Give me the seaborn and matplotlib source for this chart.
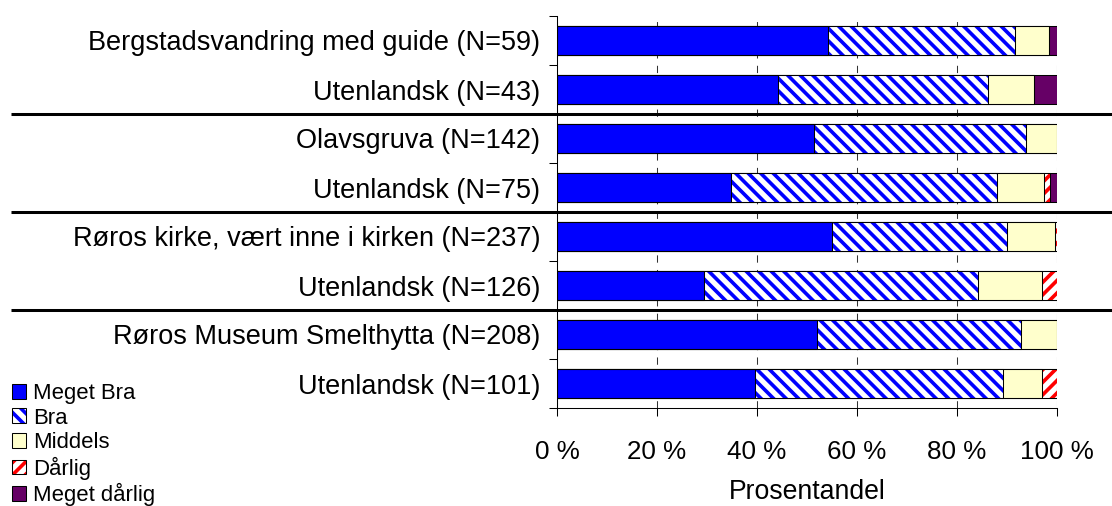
import numpy as np
import pandas as pd
import matplotlib
matplotlib.use("Agg")
import matplotlib.pyplot as plt
import seaborn as sns
from matplotlib.patches import Patch
from matplotlib.transforms import blended_transform_factory

# ---- data (percent of respondents) ----
categories = [
    "Bergstadsvandring med guide (N=59)",
    "Utenlandsk (N=43)",
    "Olavsgruva (N=142)",
    "Utenlandsk (N=75)",
    "Røros kirke, vært inne i kirken (N=237)",
    "Utenlandsk (N=126)",
    "Røros Museum Smelthytta (N=208)",
    "Utenlandsk (N=101)",
]
meget_bra = [54.2, 44.2, 51.4, 34.7, 54.9, 29.4, 51.9, 39.6]
bra = [37.3, 41.9, 42.3, 53.3, 35.0, 54.8, 40.9, 49.5]
middels = [6.8, 9.3, 6.3, 9.3, 9.7, 12.7, 7.2, 7.9]
darlig = [0.0, 0.0, 0.0, 1.3, 0.4, 3.2, 0.0, 3.0]
meget_darlig = [1.7, 4.7, 0.0, 1.3, 0.0, 0.0, 0.0, 0.0]
series_names = ["Meget Bra", "Bra", "Middels", "Dårlig", "Meget dårlig"]
x_ticks = [0, 20, 40, 60, 80, 100]
x_tick_labels = ["0 %", "20 %", "40 %", "60 %", "80 %", "100 %"]
x_label = "Prosentandel"

# ---- styles ----
BLUE = "#0000FF"
YELLOW = "#FFFFCC"
RED = "#FF0000"
PURPLE = "#660066"
styles = [
    dict(face=BLUE, hatch=None, hcol=None),
    dict(face="white", hatch="\\\\", hcol=BLUE),
    dict(face=YELLOW, hatch=None, hcol=None),
    dict(face="white", hatch="//", hcol=RED),
    dict(face=PURPLE, hatch=None, hcol=None),
]

sns.set_theme(style="white")
plt.rcParams["font.family"] = ["Liberation Sans", "DejaVu Sans"]
plt.rcParams["hatch.linewidth"] = 3.5
plt.rcParams["text.color"] = "black"
plt.rcParams["axes.labelcolor"] = "black"
plt.rcParams["xtick.color"] = "black"
plt.rcParams["ytick.color"] = "black"

DPI = 75
W, H = 1112, 506
fig = plt.figure(figsize=(W / DPI, H / DPI), dpi=DPI)
ax_left, ax_right, ax_top, ax_bottom = 557, 1057, 16, 408
ax = fig.add_axes([ax_left / W, 1 - ax_bottom / H, (ax_right - ax_left) / W, (ax_bottom - ax_top) / H])

values = np.array([meget_bra, bra, middels, darlig, meget_darlig])
cum = np.cumsum(values, axis=0)
BAR_W = 0.575
EDGE_LW = 1.0

# fills, outermost cumulative layer first
for i in reversed(range(len(series_names))):
    d = pd.DataFrame({"Kategori": categories, "Andel": cum[i]})
    st = styles[i]
    if st["hatch"]:
        sns.barplot(data=d, x="Andel", y="Kategori", order=categories, orient="h",
                    color="white", saturation=1, width=BAR_W, errorbar=None,
                    edgecolor=st["hcol"], linewidth=0, hatch=st["hatch"], ax=ax, zorder=2)
    else:
        sns.barplot(data=d, x="Andel", y="Kategori", order=categories, orient="h",
                    color=st["face"], saturation=1, width=BAR_W, errorbar=None,
                    edgecolor="black", linewidth=EDGE_LW, ax=ax, zorder=2)
# outlines for the hatched layers
for i in range(len(series_names)):
    if styles[i]["hatch"]:
        d = pd.DataFrame({"Kategori": categories, "Andel": cum[i]})
        sns.barplot(data=d, x="Andel", y="Kategori", order=categories, orient="h",
                    color="black", fill=False, width=BAR_W, errorbar=None,
                    linewidth=EDGE_LW, ax=ax, zorder=3)

ax.set_xlim(0, 100)
ax.set_ylim(len(categories) - 0.5, -0.5)
ax.set_xticks(x_ticks)
ax.set_xticklabels(x_tick_labels, fontsize=25)
ax.set_yticks(range(len(categories)))
ax.set_yticklabels(categories, fontsize=26)
ax.set_yticks(np.arange(len(categories) + 1) - 0.5, minor=True)
ax.tick_params(axis="y", which="major", length=0, pad=16, colors="black")
ax.tick_params(axis="y", which="minor", length=8, width=1, direction="out", color="black", left=True)
ax.tick_params(axis="x", which="major", length=8, width=1, direction="out", color="black",
               bottom=True, pad=23, labelcolor="black")
ax.set_ylabel("")
ax.set_xlabel(x_label, fontsize=25.5, labelpad=14, color="black")

for s in ["top", "right"]:
    ax.spines[s].set_visible(False)
for s in ["left", "bottom"]:
    ax.spines[s].set_color("black")
    ax.spines[s].set_linewidth(1)
    ax.spines[s].set_zorder(4)

ax.set_axisbelow(True)
ax.grid(axis="x", linestyle=(0, (7, 7)), color="#333333", linewidth=1)
ax.grid(axis="y", visible=False)

# group separators across the whole figure width
trans = blended_transform_factory(fig.transFigure, ax.transData)
for yb in [1.5, 3.5, 5.5]:
    ax.plot([11 / W, 1.0], [yb, yb], transform=trans, clip_on=False,
            color="black", linewidth=2.9, solid_capstyle="butt", zorder=5)

# legend
handles = []
for st in styles:
    if st["hatch"]:
        handles.append((Patch(facecolor="white", edgecolor=st["hcol"], hatch=st["hatch"], linewidth=0),
                        Patch(facecolor="none", edgecolor="black", linewidth=1)))
    else:
        handles.append(Patch(facecolor=st["face"], edgecolor="black", linewidth=1))
leg = fig.legend(handles, series_names, loc="upper left",
                 bbox_to_anchor=(12 / W, 1 - 383 / H), frameon=False,
                 fontsize=21.3, handlelength=0.64, handleheight=0.64, handletextpad=0.3,
                 labelspacing=0.16, borderpad=0, borderaxespad=0)
for t in leg.get_texts():
    t.set_color("black")

fig.savefig("out.png", dpi=DPI)
